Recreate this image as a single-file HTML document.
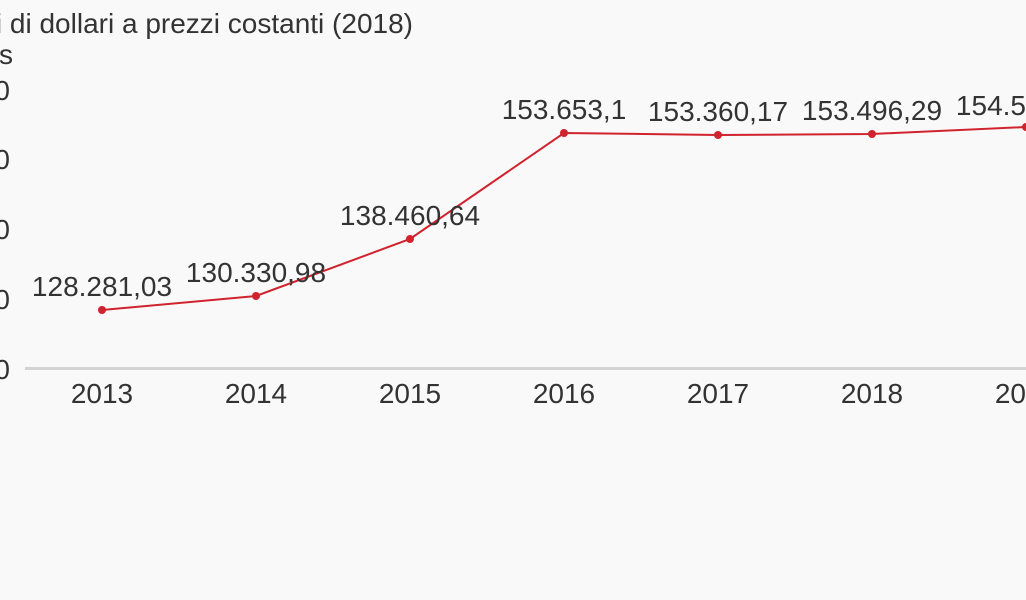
<!DOCTYPE html>
<html>
<head>
<meta charset="utf-8">
<style>
  html, body { margin:0; padding:0; background:#f9f9f9; }
  body { width:1026px; height:600px; overflow:hidden; }
  svg { display:block; }
  text { font-family:"Liberation Sans", Arial, sans-serif; fill:#333333; }
</style>
</head>
<body>
<svg width="1026" height="600" viewBox="0 0 1026 600" xmlns="http://www.w3.org/2000/svg">
  <rect x="0" y="0" width="1026" height="600" fill="#f9f9f9"/>
  <!-- title lines (cut off at left) -->
  <text x="413" y="33" font-size="28" text-anchor="end">Miliardi di dollari a prezzi costanti (2018)</text>
  <text x="13" y="64" font-size="28" text-anchor="end">Dollars</text>

  <!-- y tick labels -->
  <g font-size="28" text-anchor="end">
    <text x="10" y="100">160.000</text>
    <text x="10" y="169">150.000</text>
    <text x="10" y="239">140.000</text>
    <text x="10" y="309">130.000</text>
    <text x="10" y="379">120.000</text>
  </g>

  <!-- axis line -->
  <line x1="25" y1="368.5" x2="1026" y2="368.5" stroke="#d3d3d3" stroke-width="3"/>

  <!-- x labels -->
  <g font-size="28" text-anchor="middle">
    <text x="102" y="403">2013</text>
    <text x="256" y="403">2014</text>
    <text x="410" y="403">2015</text>
    <text x="564" y="403">2016</text>
    <text x="718" y="403">2017</text>
    <text x="872" y="403">2018</text>
    <text x="1026" y="403">2019</text>
  </g>

  <!-- series -->
  <polyline fill="none" stroke="#d0232e" stroke-width="2"
    points="102,310 256,296 410,239 564,133 718,135 872,134 1026,127"/>
  <g fill="#d0232e">
    <circle cx="102" cy="310" r="4"/>
    <circle cx="256" cy="296" r="4"/>
    <circle cx="410" cy="239" r="4"/>
    <circle cx="564" cy="133" r="4"/>
    <circle cx="718" cy="135" r="4"/>
    <circle cx="872" cy="134" r="4"/>
    <circle cx="1026" cy="127" r="4"/>
  </g>

  <!-- data labels -->
  <g font-size="28" text-anchor="middle">
    <text x="102" y="296">128.281,03</text>
    <text x="256" y="282">130.330,98</text>
    <text x="410" y="225">138.460,64</text>
    <text x="564" y="119">153.653,1</text>
    <text x="718" y="121">153.360,17</text>
    <text x="872" y="120">153.496,29</text>
    <text x="1026" y="115">154.560,12</text>
  </g>
</svg>
</body>
</html>
